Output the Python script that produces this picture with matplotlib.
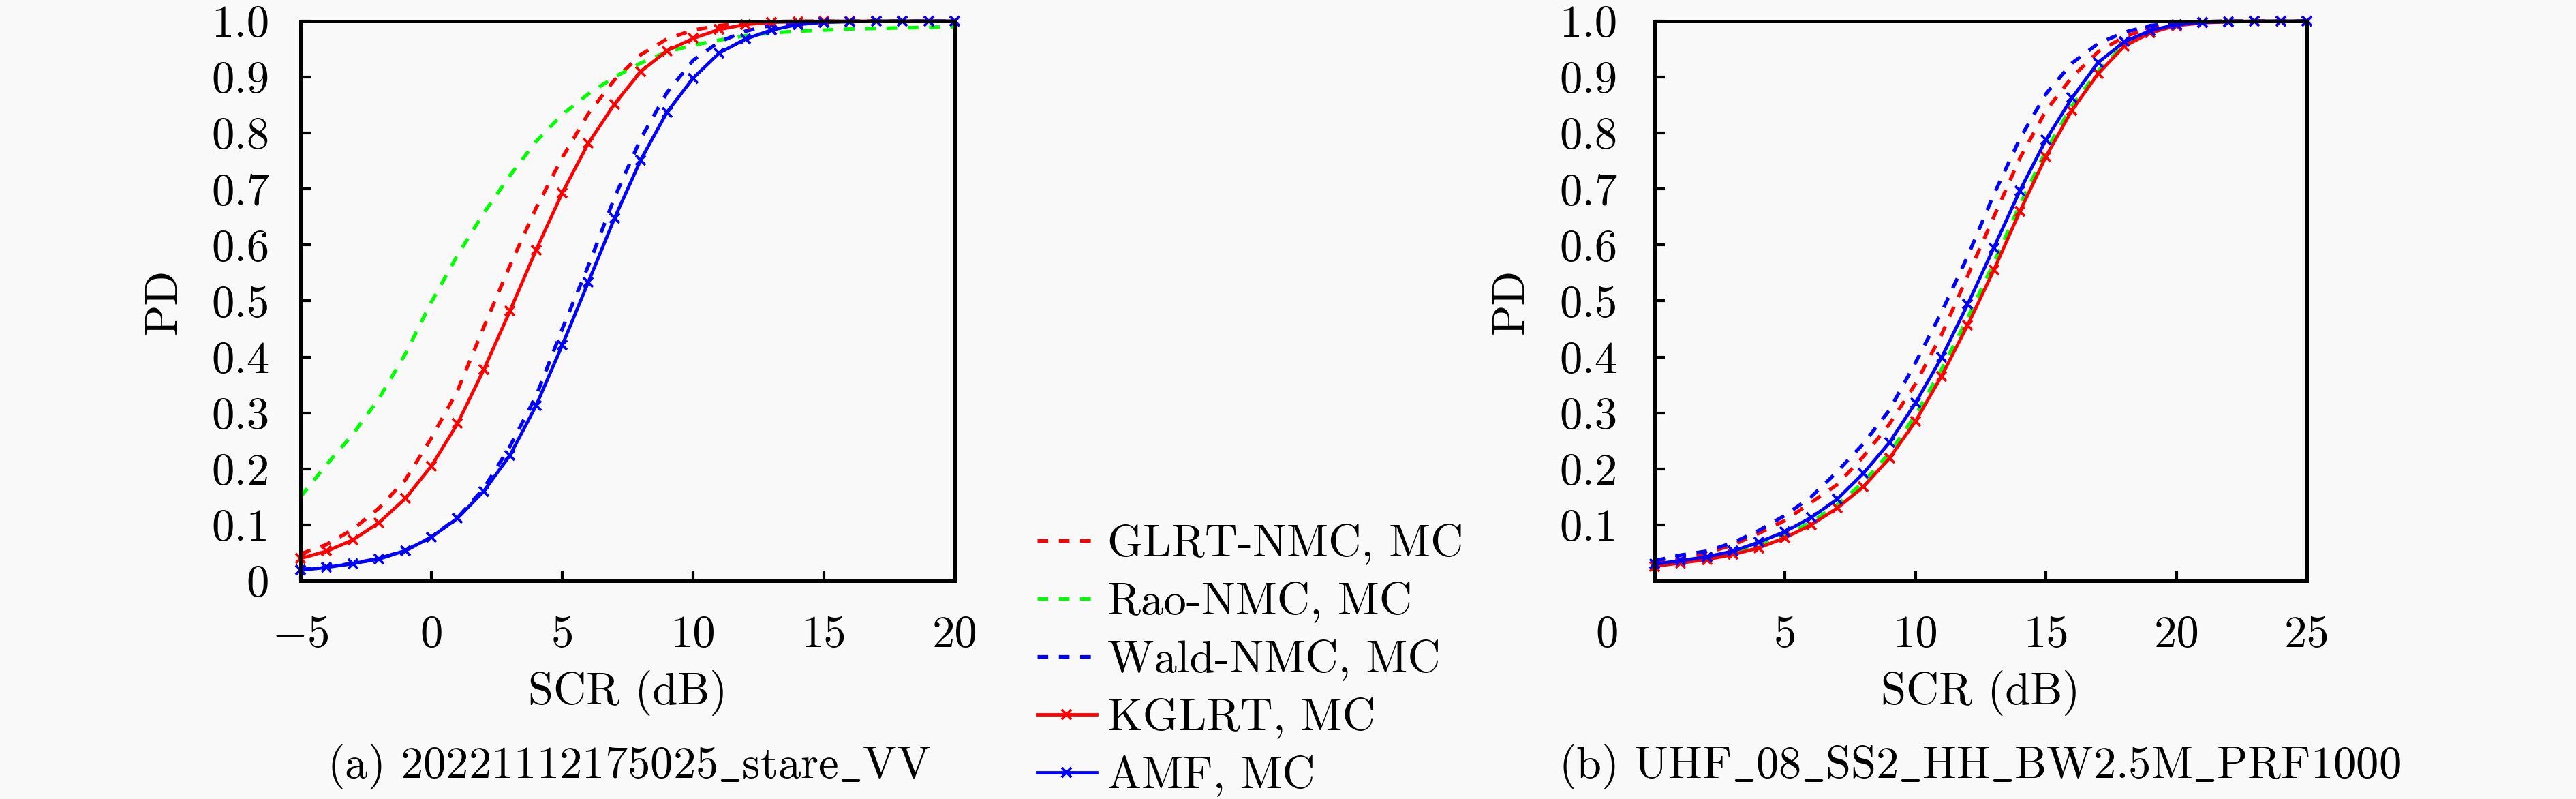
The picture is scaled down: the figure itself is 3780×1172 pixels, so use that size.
import numpy as np
import matplotlib
matplotlib.use("Agg")
import matplotlib.pyplot as plt
import matplotlib.transforms as mtransforms

plt.rcParams["font.family"] = ["cmr10", "DejaVu Serif"]
plt.rcParams["mathtext.fontset"] = "cm"
plt.rcParams["axes.unicode_minus"] = False
plt.rcParams["font.size"] = 16

# panel (a): 20221112175025_stare_VV
scr_a = np.arange(-5, 21)
glrt_nmc_a = [0.048, 0.065, 0.092, 0.130, 0.180, 0.255, 0.340, 0.453, 0.563, 0.666, 0.756, 0.835, 0.895,
              0.940, 0.968, 0.984, 0.992, 0.997, 0.999, 1.0, 1.0, 1.0, 1.0, 1.0, 1.0, 1.0]
rao_nmc_a = [0.150, 0.208, 0.262, 0.326, 0.405, 0.498, 0.582, 0.657, 0.724, 0.785, 0.833, 0.870, 0.900,
             0.925, 0.945, 0.957, 0.966, 0.974, 0.979, 0.982, 0.984, 0.986, 0.987, 0.988, 0.989, 0.990]
wald_nmc_a = [0.020, 0.025, 0.031, 0.040, 0.054, 0.078, 0.113, 0.165, 0.240, 0.330, 0.450, 0.563, 0.685,
              0.790, 0.872, 0.930, 0.963, 0.982, 0.993, 0.997, 0.999, 1.0, 1.0, 1.0, 1.0, 1.0]
kglrt_a = [0.040, 0.053, 0.073, 0.104, 0.147, 0.205, 0.281, 0.377, 0.482, 0.591, 0.693, 0.782, 0.852,
           0.910, 0.947, 0.969, 0.985, 0.994, 0.998, 0.999, 1.0, 1.0, 1.0, 1.0, 1.0, 1.0]
amf_a = [0.019, 0.024, 0.031, 0.039, 0.054, 0.078, 0.112, 0.160, 0.224, 0.313, 0.421, 0.534, 0.648,
         0.752, 0.837, 0.898, 0.943, 0.968, 0.984, 0.994, 0.998, 0.999, 1.0, 1.0, 1.0, 1.0]

# panel (b): UHF_08_SS2_HH_BW2.5M_PRF1000
scr_b = np.arange(0, 26)
glrt_nmc_b = [0.032, 0.039, 0.050, 0.064, 0.085, 0.108, 0.140, 0.172, 0.222, 0.280, 0.352, 0.440, 0.545,
              0.650, 0.755, 0.840, 0.900, 0.945, 0.972, 0.988, 0.996, 0.999, 1.0, 1.0, 1.0, 1.0]
rao_nmc_b = [0.028, 0.034, 0.040, 0.050, 0.063, 0.081, 0.105, 0.136, 0.176, 0.228, 0.296, 0.378, 0.470,
             0.568, 0.672, 0.768, 0.849, 0.911, 0.958, 0.981, 0.993, 0.998, 0.999, 1.0, 1.0, 1.0]
wald_nmc_b = [0.036, 0.046, 0.053, 0.068, 0.090, 0.117, 0.150, 0.195, 0.245, 0.305, 0.390, 0.480, 0.580,
              0.690, 0.790, 0.870, 0.925, 0.960, 0.980, 0.992, 0.997, 0.999, 1.0, 1.0, 1.0, 1.0]
kglrt_b = [0.026, 0.032, 0.038, 0.047, 0.059, 0.077, 0.100, 0.130, 0.168, 0.219, 0.285, 0.366, 0.457,
           0.555, 0.660, 0.758, 0.841, 0.906, 0.955, 0.979, 0.992, 0.997, 0.999, 1.0, 1.0, 1.0]
amf_b = [0.030, 0.036, 0.043, 0.053, 0.069, 0.088, 0.113, 0.146, 0.192, 0.247, 0.318, 0.399, 0.494,
         0.595, 0.697, 0.788, 0.863, 0.926, 0.963, 0.983, 0.994, 0.998, 0.999, 1.0, 1.0, 1.0]

labels = ["GLRT-NMC, MC", "Rao-NMC, MC", "Wald-NMC, MC", "KGLRT, MC", "AMF, MC"]
xticks_a = [-5, 0, 5, 10, 15, 20]
xticklabels_a = ["$-5$", "0", "5", "10", "15", "20"]
xticks_b = [0, 5, 10, 15, 20, 25]
xticklabels_b = ["0", "5", "10", "15", "20", "25"]
yticks_a = [0, 0.1, 0.2, 0.3, 0.4, 0.5, 0.6, 0.7, 0.8, 0.9, 1.0]
yticklabels_a = ["0", "0.1", "0.2", "0.3", "0.4", "0.5", "0.6", "0.7", "0.8", "0.9", "1.0"]
yticks_b = yticks_a[1:]
yticklabels_b = yticklabels_a[1:]
# cmr10 has no underscore glyph, so the underscores go through mathtext
caption_a = r"(a) 20221112175025$\_$stare$\_$VV"
caption_b = r"(b) UHF$\_$08$\_$SS2$\_$HH$\_$BW2.5M$\_$PRF1000"

bg = "#f9f9f9"
fig = plt.figure(figsize=(12.6, 1172 / 300), dpi=300, facecolor=bg)
ax1 = fig.add_axes([441 / 3780, 320 / 1172, 960 / 3780, 821 / 1172])
ax2 = fig.add_axes([2428 / 3780, 320 / 1172, 957 / 3780, 821 / 1172])


def draw(ax, x, glrt, rao, wald, kglrt, amf):
    dash = (3, 3)
    ax.plot(x, glrt, color="red", lw=1.25, dashes=dash, clip_on=False)
    ax.plot(x, rao, color="#00ff00", lw=1.25, dashes=dash, clip_on=False)
    ax.plot(x, wald, color="blue", lw=1.25, dashes=dash, clip_on=False)
    ax.plot(x, kglrt, color="red", lw=1.15, marker="x", ms=3.5, mew=0.9, clip_on=False)
    ax.plot(x, amf, color="blue", lw=1.15, marker="x", ms=3.5, mew=0.9, clip_on=False)


draw(ax1, scr_a, glrt_nmc_a, rao_nmc_a, wald_nmc_a, kglrt_a, amf_a)
draw(ax2, scr_b, glrt_nmc_b, rao_nmc_b, wald_nmc_b, kglrt_b, amf_b)

for ax, xt, xtl, yt, ytl, xlim, ypad in [
    (ax1, xticks_a, xticklabels_a, yticks_a, yticklabels_a, (-5, 20), 11),
    (ax2, xticks_b, xticklabels_b, yticks_b, yticklabels_b, (0, 25), 13),
]:
    ax.set_facecolor(bg)
    ax.set_xlim(*xlim)
    ax.set_ylim(0, 1)
    ax.set_xticks(xt)
    ax.set_xticklabels(xtl)
    ax.set_yticks(yt)
    ax.set_yticklabels(ytl)
    ax.tick_params(direction="in", length=3.5, width=1.0, top=False, right=False)
    ax.tick_params(axis="y", pad=ypad)
    ax.tick_params(axis="x", pad=12)
    for s in ax.spines.values():
        s.set_linewidth(1.2)
    ax.set_xlabel("SCR (dB)", va="center")
    ax.xaxis.set_label_coords(0.5, -0.2)
    ax.set_ylabel("PD", va="center")

ax1.yaxis.set_label_coords(-0.208, 0.5)
ax2.yaxis.set_label_coords(-0.219, 0.5)

# the "0" label of panel (b) sits left of the axis corner
lab0 = ax2.get_xticklabels()[0]
lab0.set_transform(lab0.get_transform() + mtransforms.ScaledTranslation(-70 / 300, 0, fig.dpi_scale_trans))

fig.text(923 / 3780, 1 - 1125 / 1172, caption_a, ha="center", va="center")
fig.text(2905 / 3780, 1 - 1125 / 1172, caption_b, ha="center", va="center")

handles = ax1.get_lines()
fig.legend(handles, labels, loc="upper left", bbox_to_anchor=(1522 / 3780, 1 - 768 / 1172),
           frameon=False, borderpad=0, borderaxespad=0, handlelength=1.3, handletextpad=0.25,
           labelspacing=0.36)

fig.savefig("out.png", dpi=300, facecolor=bg)
